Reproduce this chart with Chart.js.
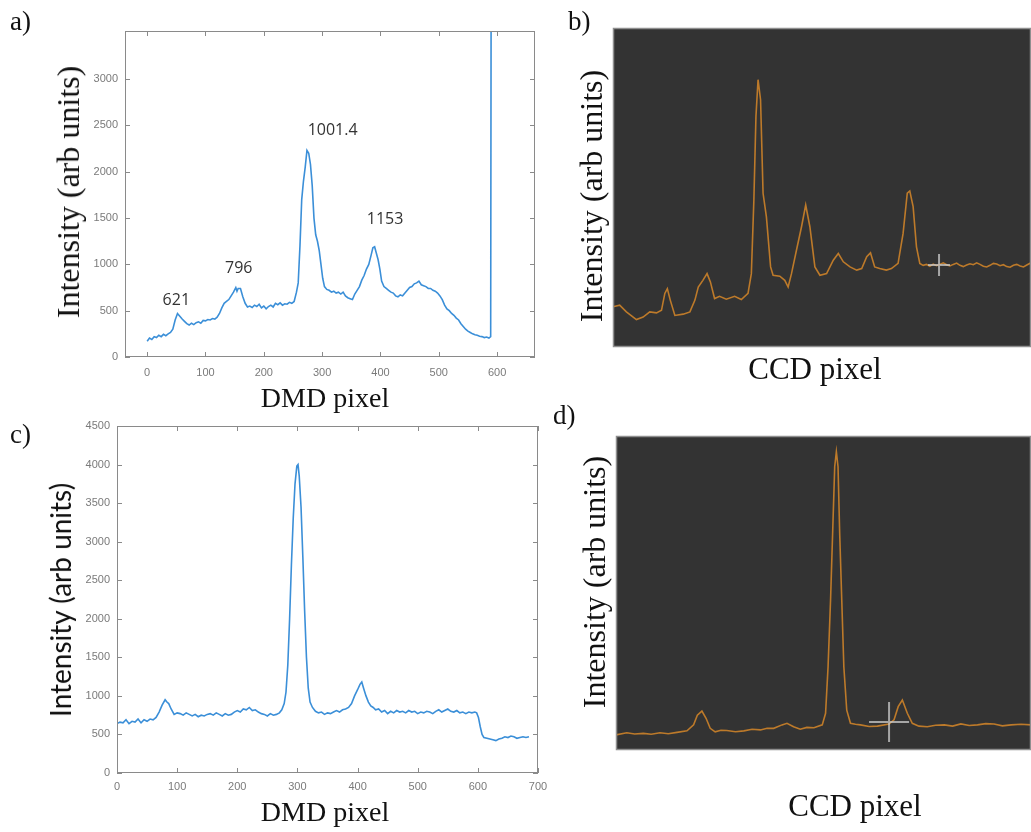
<!DOCTYPE html>
<html>
<head>
<meta charset="utf-8">
<script src="https://cdn.jsdelivr.net/npm/chart.js@4.4.0/dist/chart.umd.min.js"></script>
<style>
  body { margin: 0; background: #fff; }
  #fig { position: relative; width: 1031px; height: 832px; overflow: hidden; background: #fff; }
  canvas { position: absolute; }
  .lbl { position: absolute; font-family: "Liberation Serif", "Times New Roman", serif; color: #111; white-space: nowrap; line-height: 1; }
  .ytitle { transform: translate(-50%, -50%) rotate(-90deg); }
  .xtitle { transform: translate(-50%, -50%); }
</style>
</head>
<body>
<div id="fig">
  <canvas id="chartA" width="560" height="420" style="left:0;top:0"></canvas>
  <canvas id="chartB" width="471" height="420" style="left:560px;top:0"></canvas>
  <canvas id="chartC" width="560" height="432" style="left:0;top:400px"></canvas>
  <canvas id="chartD" width="471" height="432" style="left:560px;top:400px"></canvas>

  <div class="lbl" style="left:10px;top:8px;font-size:27px">a)</div>
  <div class="lbl" style="left:568px;top:8px;font-size:27px">b)</div>
  <div class="lbl" style="left:10px;top:421px;font-size:27px">c)</div>
  <div class="lbl" style="left:553px;top:402px;font-size:27px">d)</div>

  <div class="lbl ytitle" style="left:68px;top:192px;font-size:32px">Intensity (arb units)</div>
  <div class="lbl xtitle" style="left:325px;top:398px;font-size:28px">DMD pixel</div>
  <div class="lbl ytitle" style="left:591px;top:196px;font-size:32px">Intensity (arb units)</div>
  <div class="lbl xtitle" style="left:815px;top:368px;font-size:31px">CCD pixel</div>
  <div class="lbl ytitle" style="left:60px;top:600px;font-size:28px;font-family:Lato,'Liberation Sans',sans-serif">Intensity (arb units)</div>
  <div class="lbl xtitle" style="left:325px;top:812px;font-size:28px">DMD pixel</div>
  <div class="lbl ytitle" style="left:594px;top:582px;font-size:32px">Intensity (arb units)</div>
  <div class="lbl xtitle" style="left:855px;top:805px;font-size:31px">CCD pixel</div>
</div>

<script>
// ---- panel a : DMD spectrum with peak labels
const xA = [0,4,8,12,16,20,24,28,32,36,40,44,48,52,56,60,64,68,72,76,80,84,88,92,96,100,104,108,112,116,120,124,128,132,136,140,144,148,152,154,156,160,164,168,172,176,180,184,188,192,196,200,204,208,212,216,220,224,228,232,236,240,244,248,252,256,259,262,265,268,271,274,277,280,283,286,289,292,295,298,301,304,308,312,316,320,324,328,332,336,340,344,348,352,356,360,364,368,372,376,380,384,387,390,393,396,399,402,406,410,414,418,422,426,430,434,438,442,446,450,454,458,462,466,470,474,478,482,486,490,494,498,502,506,510,514,518,522,526,530,534,538,542,546,550,554,558,562,566,570,574,578,582,586,589,590];
const yA = [170,205,190,220,210,235,220,245,230,250,265,300,400,470,440,410,385,360,345,365,350,370,380,365,395,390,405,400,415,410,430,470,530,580,600,620,660,700,750,710,740,740,650,580,540,550,535,560,545,570,530,550,520,545,560,540,580,565,585,560,575,570,590,580,600,700,800,1200,1700,1900,2050,2230,2200,2080,1850,1500,1320,1250,1150,1000,850,760,730,720,700,710,690,700,680,700,660,640,630,620,680,720,760,830,880,950,1000,1100,1180,1190,1120,1050,950,820,760,740,720,700,690,660,650,670,660,690,720,750,760,790,800,820,780,770,760,740,740,720,710,690,660,620,560,520,500,470,450,420,400,360,330,300,280,265,250,240,235,225,220,210,215,205,220,5000];
const xTicksA = [0,100,200,300,400,500,600];
const yTicksA = [0,500,1000,1500,2000,2500,3000];
const peakNames = ['621','796','1001.4','1153'];
const peakX = [50,157,318,408];
const peakY = [610,960,2450,1480];

// ---- panel b : CCD spectrum (no scale shown)
const xB = [0,1.6,3.2,5.6,7.2,8.8,10.4,11.6,12.4,13.0,13.7,14.8,16.8,18.4,19.6,20.4,21.5,22.5,23.3,24.3,25.5,27.1,29.1,30.7,32.3,33.1,33.7,34.2,34.7,35.3,35.9,36.7,37.7,38.3,39.9,41.1,41.9,42.7,43.9,45.1,46.1,47.1,48.3,49.5,51.1,52.7,53.9,55.1,56.7,58.3,59.5,60.7,61.6,62.6,63.8,65.4,66.6,68.2,69.4,70.4,71.0,71.8,72.6,73.4,74.2,75.0,75.8,76.6,77.4,78.2,79.0,79.8,80.6,81.4,82.2,83.0,83.8,84.6,85.4,86.2,87.0,87.8,88.6,89.4,90.2,91.0,91.8,92.6,93.4,94.2,95.0,95.8,96.6,97.4,98.2,99.0,100];
const yB = [12.6,13.1,11.0,8.6,9.4,11.0,10.7,11.5,16.8,18.3,14.7,9.9,10.3,11.0,14.7,18.8,20.9,23.0,20.4,15.2,15.9,15.0,15.9,14.9,16.8,23.0,46.1,72.3,83.8,77.5,48.2,40.8,25.1,22.5,22.2,20.9,18.8,23.0,30.4,37.7,44.5,37.7,25.1,22.5,23.0,27.2,29.3,26.7,25.1,24.1,24.6,28.3,29.5,25.1,24.6,24.1,24.6,26.2,35.6,48.2,48.9,44.0,31.4,26.2,25.6,25.9,25.3,26.0,25.5,25.9,26.4,25.8,25.4,25.9,26.3,25.6,25.2,25.7,26.1,25.8,26.4,25.9,25.3,25.1,25.6,26.2,26.0,25.5,25.8,25.2,25.0,25.6,25.9,25.4,25.1,25.7,26.4];
const cursorB = [78.0, 25.7];

// ---- panel c : DMD spectrum
const xC = [0,5,10,15,20,25,30,35,40,45,50,55,60,65,70,75,80,83,86,90,95,100,105,110,115,120,125,130,135,140,145,150,155,160,165,170,175,180,185,190,195,200,205,210,215,220,225,230,235,240,245,250,255,260,265,270,274,278,281,284,287,290,293,296,299,301,303,306,309,312,315,318,321,325,330,335,340,345,350,355,360,365,370,375,380,385,390,395,400,404,407,410,414,418,422,426,430,435,440,445,450,455,460,465,470,475,480,485,490,495,500,505,510,515,520,525,530,535,540,545,550,555,560,565,570,575,580,585,590,595,598,601,604,607,610,615,620,625,630,635,640,645,650,655,660,665,670,675,680,685];
const yC = [640,660,650,690,640,670,660,700,650,690,670,700,690,720,790,880,950,920,900,830,760,780,770,750,780,760,740,760,730,750,740,760,770,750,780,760,740,770,750,760,790,810,790,830,820,850,810,820,790,770,760,740,770,750,760,780,820,900,1050,1400,2000,2700,3300,3750,3980,4000,3850,3450,2800,2100,1500,1100,920,850,800,780,790,760,780,770,790,810,790,820,830,850,900,1000,1080,1150,1180,1100,1000,920,870,850,820,830,790,810,770,800,780,810,790,800,780,810,790,800,770,790,780,800,790,770,800,820,790,810,830,800,790,810,780,790,770,790,780,790,780,720,600,500,460,450,440,430,420,440,450,470,460,480,470,450,460,470,460,470];
const xTicksC = [0,100,200,300,400,500,600,700];
const yTicksC = [0,500,1000,1500,2000,2500,3000,3500,4000,4500];

// ---- panel d : CCD spectrum (no scale shown)
const xD = [0,2.6,4.5,6.6,8.5,10.6,12.6,14.7,17.1,18.7,19.6,20.7,21.7,22.7,23.9,25.3,26.7,28.8,30.8,32.8,34.8,36.4,38.0,40.0,41.2,42.8,44.4,46.0,47.7,49.7,50.5,51.1,51.7,52.2,52.7,53.1,53.5,53.9,54.4,54.9,55.6,56.5,57.7,58.9,61.0,63.0,65.8,67.0,68.0,69.0,70.2,71.4,73.0,75.0,77.0,79.1,81.1,83.1,85.1,87.1,89.1,91.1,93.1,95.2,97.6,100];
const yD = [4.8,5.5,5.1,5.3,5.0,5.5,5.2,5.6,6.1,8.0,11.1,12.4,10.1,6.9,5.8,6.3,6.2,5.8,6.1,6.6,6.4,6.9,6.9,8.0,8.5,7.4,6.6,7.2,7.1,8.0,11.7,26.5,47.8,69.0,90.2,95.0,90.2,69.0,47.8,26.5,12.7,8.5,8.2,8.0,7.5,7.6,8.3,9.6,13.8,15.9,11.7,8.5,7.6,7.4,7.9,8.0,7.6,8.3,7.8,8.0,8.4,8.3,7.7,8.0,8.2,8.0];
const cursorD = [65.8, 8.9];

const blueLine = '#3b8fd8';
const orangeLine = '#bd7a2a';
const tickFont = { family: "'Liberation Sans', Arial, sans-serif", size: 11 };

// draws the panel background, the box and the inward tick marks on all four sides
const framePlugin = {
  id: 'frame',
  beforeDatasetsDraw(chart, args, opts) {
    const a = chart.chartArea;
    if (opts.fill) {
      const ctx = chart.ctx;
      ctx.save();
      ctx.fillStyle = opts.fill;
      ctx.fillRect(a.left, a.top, a.right - a.left, a.bottom - a.top);
      ctx.restore();
    }
  },
  afterDatasetsDraw(chart, args, opts) {
    const a = chart.chartArea;
    const ctx = chart.ctx;
    ctx.save();
    ctx.strokeStyle = opts.border;
    ctx.lineWidth = opts.width || 1;
    ctx.strokeRect(a.left + 0.5, a.top + 0.5, a.right - a.left - 1, a.bottom - a.top - 1);
    if (opts.ticks) {
      const len = 5;
      ctx.beginPath();
      chart.scales.x.ticks.forEach(t => {
        const px = Math.round(chart.scales.x.getPixelForValue(t.value)) + 0.5;
        ctx.moveTo(px, a.bottom); ctx.lineTo(px, a.bottom - len);
        ctx.moveTo(px, a.top); ctx.lineTo(px, a.top + len);
      });
      chart.scales.y.ticks.forEach(t => {
        const py = Math.round(chart.scales.y.getPixelForValue(t.value)) + 0.5;
        ctx.moveTo(a.left, py); ctx.lineTo(a.left + len, py);
        ctx.moveTo(a.right, py); ctx.lineTo(a.right - len, py);
      });
      ctx.stroke();
    }
    ctx.restore();
  }
};

// peak wavenumber labels placed at data coordinates
const peakPlugin = {
  id: 'peaks',
  afterDatasetsDraw(chart, args, opts) {
    if (!opts.names) return;
    const ctx = chart.ctx;
    ctx.save();
    ctx.font = "16px 'Open Sans', Lato, sans-serif";
    ctx.fillStyle = '#333';
    ctx.textAlign = 'center';
    ctx.textBaseline = 'middle';
    opts.names.forEach((n, i) => {
      ctx.fillText(n, chart.scales.x.getPixelForValue(opts.xs[i]), chart.scales.y.getPixelForValue(opts.ys[i]));
    });
    ctx.restore();
  }
};

function toPoints(xs, ys) {
  return xs.map((x, i) => ({ x: x, y: ys[i] }));
}

function axisScale(min, max, tickValues, pad, fitKey, fitSize) {
  return {
    type: 'linear', min: min, max: max,
    grid: { display: false, drawTicks: false },
    border: { display: false },
    ticks: { font: tickFont, color: '#7a7a7a', padding: pad, autoSkip: false, maxRotation: 0, callback: v => String(v) },
    afterBuildTicks: s => { s.ticks = tickValues.map(v => ({ value: v })); },
    afterFit: s => { s[fitKey] = fitSize; }
  };
}

function hiddenScale(max) {
  return { type: 'linear', min: 0, max: max, display: false };
}

new Chart(document.getElementById('chartA'), {
  type: 'line',
  data: { datasets: [{ data: toPoints(xA, yA), borderColor: blueLine, borderWidth: 1.6, pointRadius: 0, tension: 0 }] },
  options: {
    animation: false, responsive: false,
    layout: { autoPadding: false, padding: { top: 31, right: 25, left: 0, bottom: 0 } },
    plugins: {
      legend: { display: false }, tooltip: { enabled: false },
      frame: { border: '#8a8a8a', ticks: true },
      peaks: { names: peakNames, xs: peakX, ys: peakY }
    },
    scales: {
      x: axisScale(-38, 665, xTicksA, 9, 'height', 63),
      y: axisScale(0, 3520, yTicksA, 7, 'width', 125)
    }
  },
  plugins: [framePlugin, peakPlugin]
});

new Chart(document.getElementById('chartC'), {
  type: 'line',
  data: { datasets: [{ data: toPoints(xC, yC), borderColor: blueLine, borderWidth: 1.6, pointRadius: 0, tension: 0 }] },
  options: {
    animation: false, responsive: false,
    layout: { autoPadding: false, padding: { top: 26, right: 22, left: 0, bottom: 0 } },
    plugins: {
      legend: { display: false }, tooltip: { enabled: false },
      frame: { border: '#8a8a8a', ticks: true }
    },
    scales: {
      x: axisScale(0, 700, xTicksC, 7, 'height', 59),
      y: axisScale(0, 4500, yTicksC, 7, 'width', 117)
    }
  },
  plugins: [framePlugin]
});

function ccdChart(id, xs, ys, cursor, cursorSize, padding) {
  return new Chart(document.getElementById(id), {
    type: 'line',
    data: {
      datasets: [
        { type: 'scatter', data: [{ x: cursor[0], y: cursor[1] }], pointStyle: 'cross', pointRadius: cursorSize,
          borderColor: 'rgba(205,205,205,0.75)', borderWidth: 2 },
        { data: toPoints(xs, ys), borderColor: orangeLine, borderWidth: 1.6, pointRadius: 0, tension: 0 }
      ]
    },
    options: {
      animation: false, responsive: false,
      layout: { autoPadding: false, padding: padding },
      plugins: {
        legend: { display: false }, tooltip: { enabled: false },
        frame: { fill: '#333333', border: '#8f8f8f', width: 1.5, ticks: false }
      },
      scales: { x: hiddenScale(100), y: hiddenScale(100) }
    },
    plugins: [framePlugin]
  });
}

ccdChart('chartB', xB, yB, cursorB, 11, { left: 53, top: 28, right: 0, bottom: 73 });
ccdChart('chartD', xD, yD, cursorD, 20, { left: 56, top: 36, right: 0, bottom: 82 });
</script>
</body>
</html>
